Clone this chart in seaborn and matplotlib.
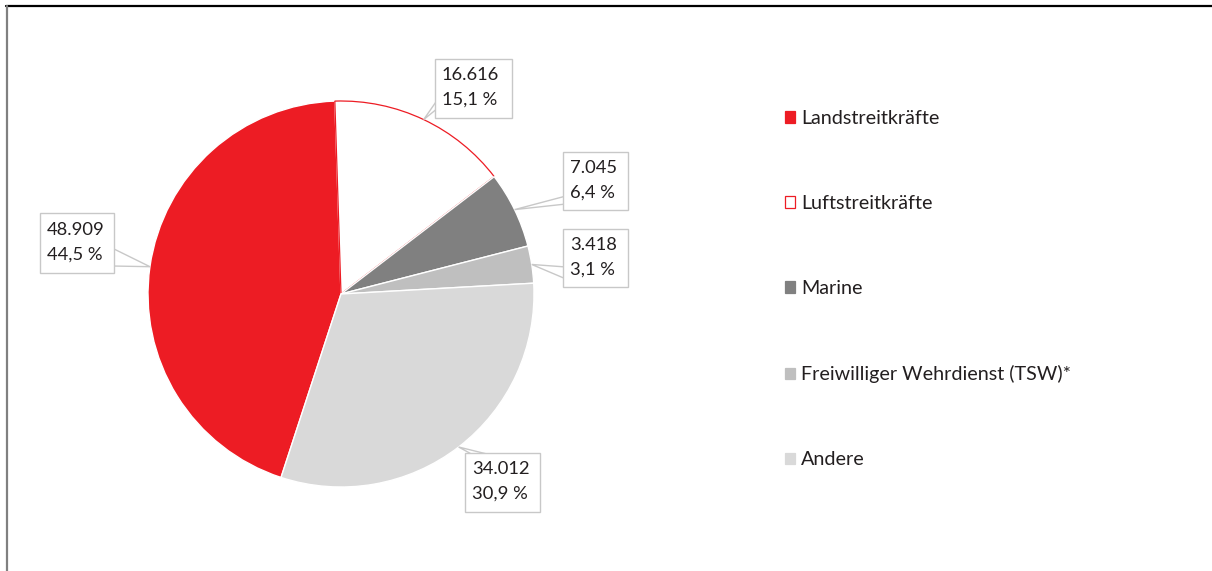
import numpy as np
import matplotlib
matplotlib.use("Agg")
import matplotlib.pyplot as plt
import seaborn as sns
from matplotlib.patches import Polygon, Rectangle
from matplotlib.lines import Line2D

# Daten
kategorien = ["Landstreitkräfte", "Luftstreitkräfte", "Marine",
              "Freiwilliger Wehrdienst (TSW)*", "Andere"]
anzahl = [48909, 16616, 7045, 3418, 34012]
anteil = ["44,5 %", "15,1 %", "6,4 %", "3,1 %", "30,9 %"]
farben = ["#ED1C24", "#FFFFFF", "#808080", "#BFBFBF", "#D9D9D9"]

sns.set_theme(style="white")
plt.rcParams["font.family"] = ["Lato", "DejaVu Sans"]
TXT = "#231F20"
W, H = 1212, 571

fig = plt.figure(figsize=(W / 100, H / 100), dpi=100)
ax = fig.add_axes([0, 0, 1, 1])

cx, cy, r = 341, H - 294, 193
wedges, _ = ax.pie(anzahl, colors=farben, startangle=251.9, counterclock=False,
                   center=(cx, cy), radius=r,
                   wedgeprops=dict(edgecolor="white", linewidth=1))
wedges[1].set_edgecolor("#ED1C24")
wedges[1].set_linewidth(0.9)
ax.set_xlim(0, W)
ax.set_ylim(0, H)
ax.set_aspect("equal")
ax.axis("off")

# Beschriftungsboxen (Pixelposition: links, oben, Breite, Höhe) und Zeigerbasis
boxen = [(40, 213, 74, 60), (435, 59, 77, 59), (563, 152, 65, 58),
         (563, 229, 65, 58), (465, 453, 75, 59)]
basis = [((112, 248), (112, 266)), ((438, 99), (438, 108)), ((566, 196), (566, 204)),
         ((566, 267), (566, 279)), ((475, 456), (495, 456))]

for w, n, p, (bx, by, bw, bh), (b1, b2) in zip(wedges, anzahl, anteil, boxen, basis):
    mid = np.deg2rad((w.theta1 + w.theta2) / 2)
    ax_, ay_ = cx + r * np.cos(mid), cy + r * np.sin(mid)
    ax.add_patch(Polygon([(ax_, ay_), (b1[0], H - b1[1]), (b2[0], H - b2[1])],
                         closed=True, facecolor="white", edgecolor="#C8C8C8",
                         linewidth=1, zorder=3))
    ax.add_patch(Rectangle((bx, H - by - bh), bw, bh, facecolor="white",
                           edgecolor="#C8C8C8", linewidth=1, zorder=4))
    txt = f"{n:,}".replace(",", ".") + "\n" + p
    ax.text(bx + 7, H - by - bh / 2 + 1, txt, ha="left", va="center", fontsize=13.2,
            color=TXT, linespacing=1.68, zorder=5)

# Legende
handles = []
for f in farben:
    ec = "#ED1C24" if f == "#FFFFFF" else f
    handles.append(Rectangle((0, 0), 1, 1, facecolor=f, edgecolor=ec, linewidth=0.9))
leg = ax.legend(handles, kategorien, loc="upper left",
                bbox_to_anchor=(785 / W, (H - 110) / H), bbox_transform=fig.transFigure,
                frameon=False, fontsize=14.2, labelspacing=3.45, handlelength=0.5,
                handleheight=0.5, handletextpad=0.3, borderpad=0, borderaxespad=0)
for t in leg.get_texts():
    t.set_color(TXT)

# Rahmen
fig.add_artist(Line2D([6 / W, 1], [1 - 6 / H, 1 - 6 / H], color="black", linewidth=1.6,
                      transform=fig.transFigure))
fig.add_artist(Line2D([6.5 / W, 6.5 / W], [0, 1 - 6 / H], color="#808080", linewidth=1.6,
                      transform=fig.transFigure))

fig.savefig("out.png", dpi=100)
